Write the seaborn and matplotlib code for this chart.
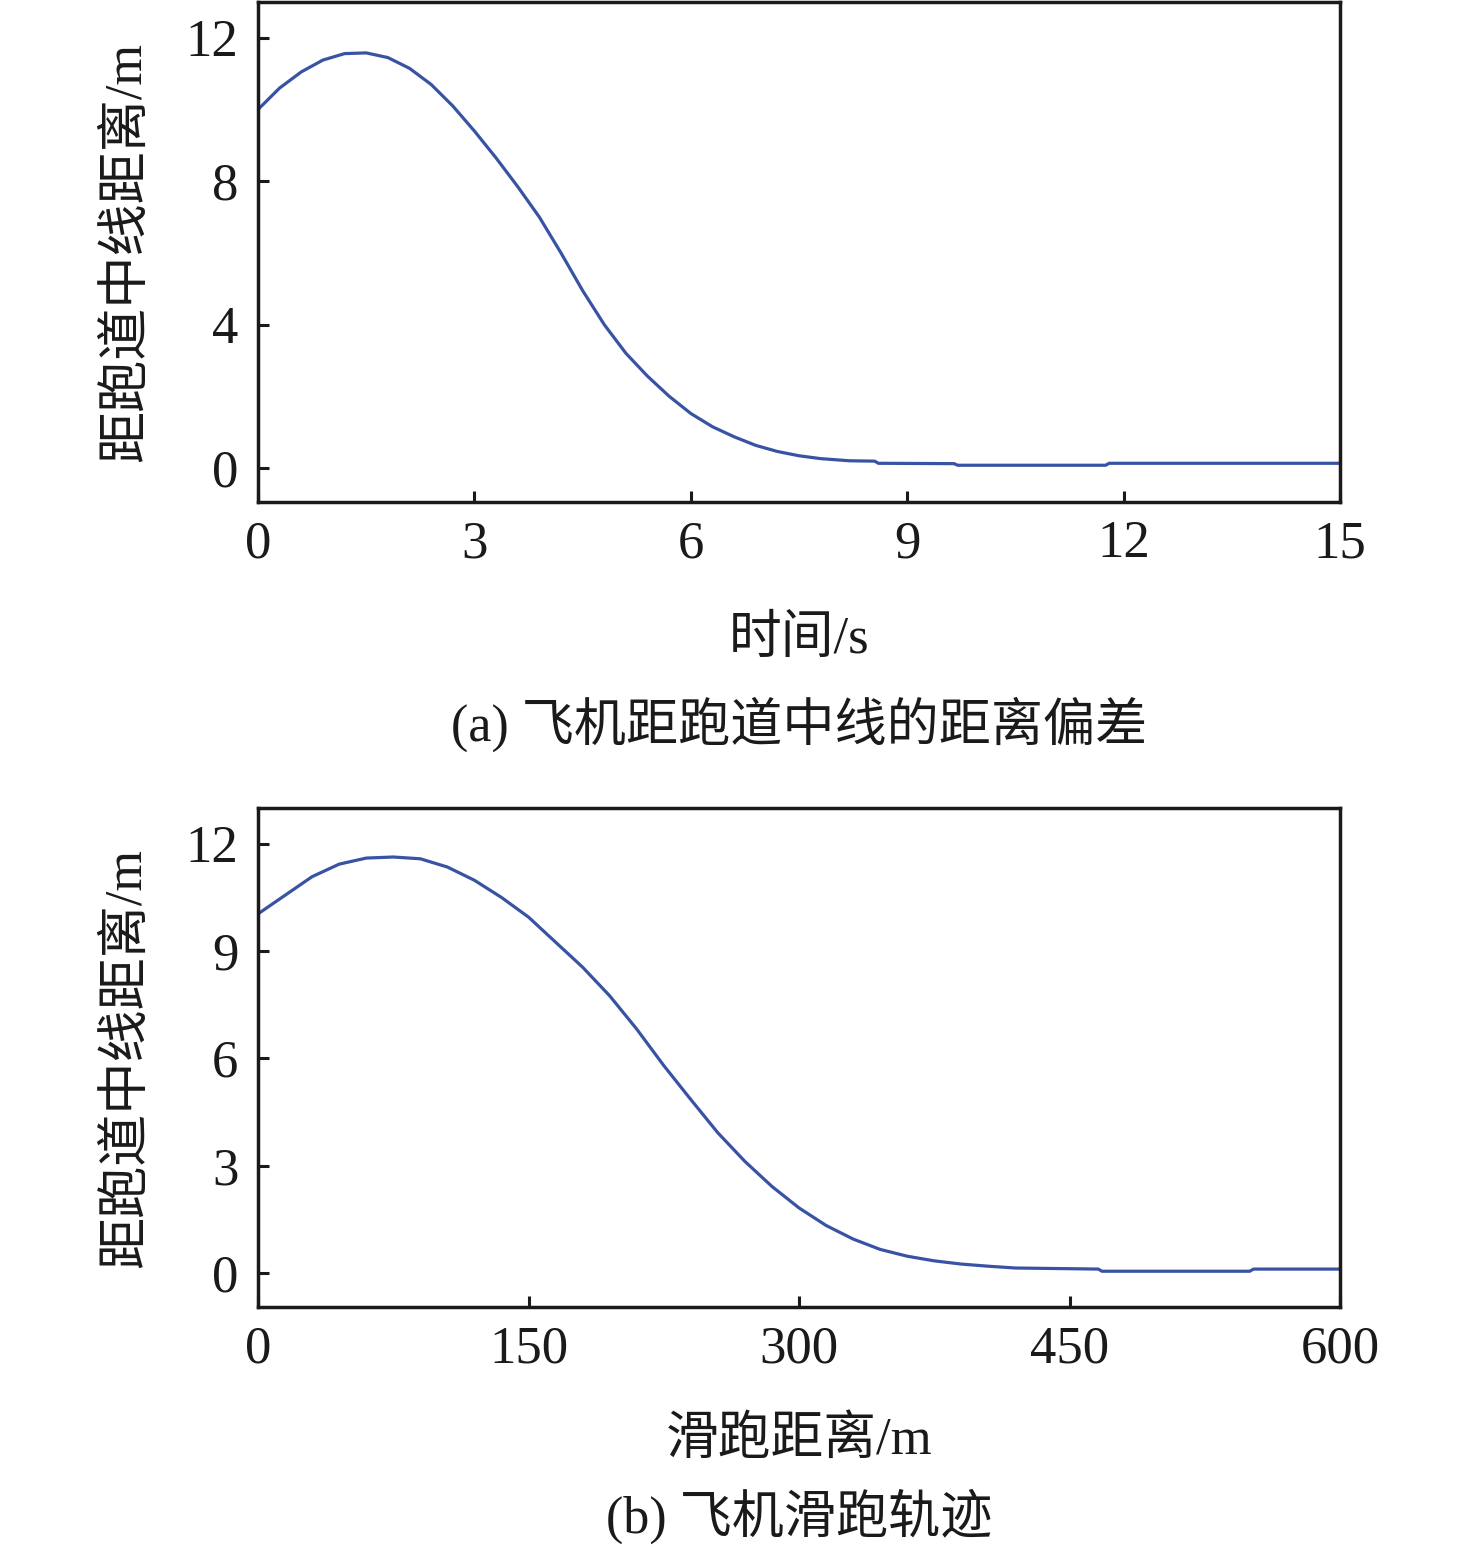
import numpy as np
import pandas as pd
import matplotlib
matplotlib.use("Agg")
import matplotlib.pyplot as plt
import seaborn as sns

# (a) distance to runway centreline vs time
time_s = [0, 0.3, 0.6, 0.9, 1.2, 1.5, 1.8, 2.1, 2.4, 2.7, 3.0, 3.3, 3.6, 3.9,
          4.2, 4.5, 4.8, 5.1, 5.4, 5.7, 6.0, 6.3, 6.6, 6.9, 7.2, 7.5, 7.8,
          8.2, 8.55, 8.6, 9.65, 9.7, 11.75, 11.8, 15]
offset_t = [10.0, 10.6, 11.05, 11.38, 11.56, 11.58, 11.45, 11.15, 10.7, 10.1,
            9.4, 8.65, 7.85, 7.0, 6.0, 4.95, 4.0, 3.2, 2.56, 2.0, 1.52, 1.15,
            0.87, 0.63, 0.46, 0.34, 0.26, 0.2, 0.19, 0.13, 0.12, 0.075, 0.075,
            0.13, 0.13]

# (b) distance to runway centreline vs roll distance
roll_m = [0, 15, 30, 45, 60, 75, 90, 105, 120, 135, 150, 165, 180, 195, 210,
          225, 240, 255, 270, 285, 300, 315, 330, 345, 360, 375, 390, 405, 420,
          466, 468, 550, 552, 600]
offset_d = [10.04, 10.56, 11.08, 11.43, 11.6, 11.63, 11.58, 11.35, 10.98, 10.5,
            9.95, 9.25, 8.55, 7.75, 6.82, 5.8, 4.85, 3.92, 3.12, 2.42, 1.82, 1.33,
            0.95, 0.66, 0.47, 0.34, 0.25, 0.19, 0.14, 0.11, 0.05, 0.05, 0.11,
            0.11]

ylabel = "距跑道中线距离/m"
xlabel_a = "时间/s"
xlabel_b = "滑跑距离/m"
caption_a = "(a) 飞机距跑道中线的距离偏差"
caption_b = "(b) 飞机滑跑轨迹"
yticks_a = [0, 4, 8, 12]
yticks_b = [0, 3, 6, 9, 12]
xticks_a = [0, 3, 6, 9, 12, 15]
xticks_b = [0, 150, 300, 450, 600]

sns.set_theme(style="ticks")
plt.rcParams['font.family'] = ['Liberation Serif', 'Noto Sans CJK SC', 'DejaVu Sans']
plt.rcParams['axes.unicode_minus'] = False

line_color = '#3953a4'
ink = '#1a1a1a'
W, H = 1476, 1551
fig = plt.figure(figsize=(W / 100, H / 100), dpi=100)

ax1 = fig.add_axes([258 / W, 1 - 502 / H, 1082 / W, 500 / H])
ax2 = fig.add_axes([258 / W, 1 - 1307 / H, 1082 / W, 499 / H])

df_a = pd.DataFrame({'t': time_s, 'y': offset_t})
df_b = pd.DataFrame({'x': roll_m, 'y': offset_d})

sns.lineplot(data=df_a, x='t', y='y', ax=ax1, color=line_color, lw=2.3, estimator=None)
sns.lineplot(data=df_b, x='x', y='y', ax=ax2, color=line_color, lw=2.3, estimator=None)

setup = [
    (ax1, xticks_a, yticks_a, (0, 15), xlabel_a, -0.275),
    (ax2, xticks_b, yticks_b, (0, 600), xlabel_b, -0.267),
]
for ax, xt, yt, xl, xlab, ypos in setup:
    ax.set_xlim(*xl)
    ax.set_ylim(-0.95, 13)
    ax.set_xticks(xt)
    ax.set_yticks(yt)
    ax.tick_params(direction='in', length=8, width=2.2, top=False, right=False,
                   labelsize=38, colors=ink)
    ax.tick_params(axis='y', pad=14)
    ax.tick_params(axis='x', pad=13)
    for s in ax.spines.values():
        s.set_linewidth(2.5)
        s.set_color(ink)
    ax.set_xlabel(xlab, fontsize=38, color=ink)
    ax.xaxis.set_label_coords(0.5, ypos)
    ax.xaxis.label.set_verticalalignment('center')
    ax.set_ylabel(ylabel, fontsize=37.5, color=ink)
    ax.yaxis.set_label_coords(-0.121, 0.5)
    ax.yaxis.label.set_verticalalignment('center')

fig.text(799 / W, 1 - 724 / H, caption_a, fontsize=37.5, ha='center', va='center', color=ink)
fig.text(799 / W, 1 - 1516 / H, caption_b, fontsize=37.5, ha='center', va='center', color=ink)

fig.savefig('out.png', dpi=100, facecolor='white')
